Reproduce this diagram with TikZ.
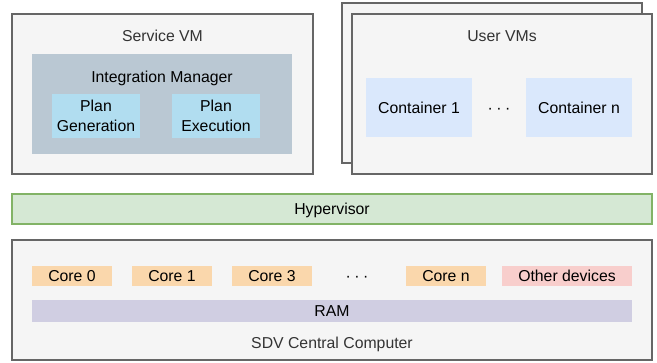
\documentclass[tikz,border=0pt]{standalone}
\usepackage{fontspec}
\setmainfont{Liberation Sans}
\usetikzlibrary{fit}
\definecolor{boxfill}{HTML}{F5F5F5}
\definecolor{boxline}{HTML}{666666}
\definecolor{imfill}{HTML}{BAC8D3}
\definecolor{planfill}{HTML}{B1DDF0}
\definecolor{contfill}{HTML}{DAE8FC}
\definecolor{hypfill}{HTML}{D5E8D4}
\definecolor{hypline}{HTML}{82B366}
\definecolor{corefill}{HTML}{FAD7AC}
\definecolor{devfill}{HTML}{F8CECC}
\definecolor{ramfill}{HTML}{D0CEE2}
\definecolor{labgray}{HTML}{333333}
\newcommand{\mydots}{·\hspace{2.6pt}·\hspace{2.6pt}·}
\begin{document}
\begin{tikzpicture}[x=0.75pt,y=-0.75pt,
  font=\fontsize{11.85}{14.5}\selectfont,
  area/.style={inner sep=0pt, draw=boxline, fill=boxfill, line width=0.9pt},
  block/.style={inner sep=0pt, draw=none},
  glab/.style={anchor=base, text=labgray, inner sep=0pt},
  blab/.style={anchor=base, text=black, inner sep=0pt},
  clab/.style={anchor=base, yshift=-4.2pt, text=black, inner sep=0pt},
  mlab/.style={align=center, text=black, inner sep=0pt}]
\fill[white] (0,0) rectangle (657,362);
\useasboundingbox (0,0) rectangle (657,362);

% Service VM
\node[area, fit={(12,14) (313,174)}] (svm) {};
\node[glab] (svmlab) at (162.5,41) {Service VM};
\node[block, fit={(32,54) (292,154)}, fill=imfill] (im) {};
\node[blab] (imlab) at (162,82) {Integration Manager};
\node[block, fit={(52,94) (140,138)}, fill=planfill] (pg) {};
\node[mlab] (pglab) at (pg.center) {Plan\\Generation};
\node[block, fit={(172,94) (260,138)}, fill=planfill] (pe) {};
\node[mlab] (pelab) at (pe.center) {Plan\\Execution};

% User VMs
\node[area, fit={(342,3) (642,163)}] (uvmback) {};
\node[area, fit={(352,14) (652,174)}] (uvm) {};
\node[glab] (uvmlab) at (502,41.3) {User VMs};
\node[block, fit={(366,78) (472,137)}, fill=contfill] (c1) {};
\node[clab] (c1lab) at (c1.center) {Container 1};
\node[block, fit={(526,78) (632,137)}, fill=contfill] (cn) {};
\node[clab] (cnlab) at (cn.center) {Container n};
\node[clab] (cdots) at (499,107.5) {\mydots};

% Hypervisor
\node[block, fit={(12,194) (652,224)}, fill=hypfill, draw=hypline, line width=0.9pt] (hyp) {};
\node[clab] (hyplab) at (hyp.center) {Hypervisor};

% SDV Central Computer
\node[area, fit={(12,240) (652,360)}] (sdv) {};
\node[block, fit={(32,266) (112,286)}, fill=corefill] (core0) {};
\node[clab] (core0lab) at (core0.center) {Core 0};
\node[block, fit={(132,266) (212,286)}, fill=corefill] (core1) {};
\node[clab] (core1lab) at (core1.center) {Core 1};
\node[block, fit={(232,266) (312,286)}, fill=corefill] (core3) {};
\node[clab] (core3lab) at (core3.center) {Core 3};
\node[clab] (coredots) at (357,276) {\mydots};
\node[block, fit={(406,266) (486,286)}, fill=corefill] (coren) {};
\node[clab] (corenlab) at (coren.center) {Core n};
\node[block, fit={(502,266) (632,286)}, fill=devfill] (dev) {};
\node[clab] (devlab) at (dev.center) {Other devices};
\node[block, fit={(32,300) (632,322)}, fill=ramfill] (ram) {};
\node[clab] (ramlab) at (ram.center) {RAM};
\node[glab] (sdvlab) at (332,348.6) {SDV Central Computer};
\end{tikzpicture}
\end{document}
